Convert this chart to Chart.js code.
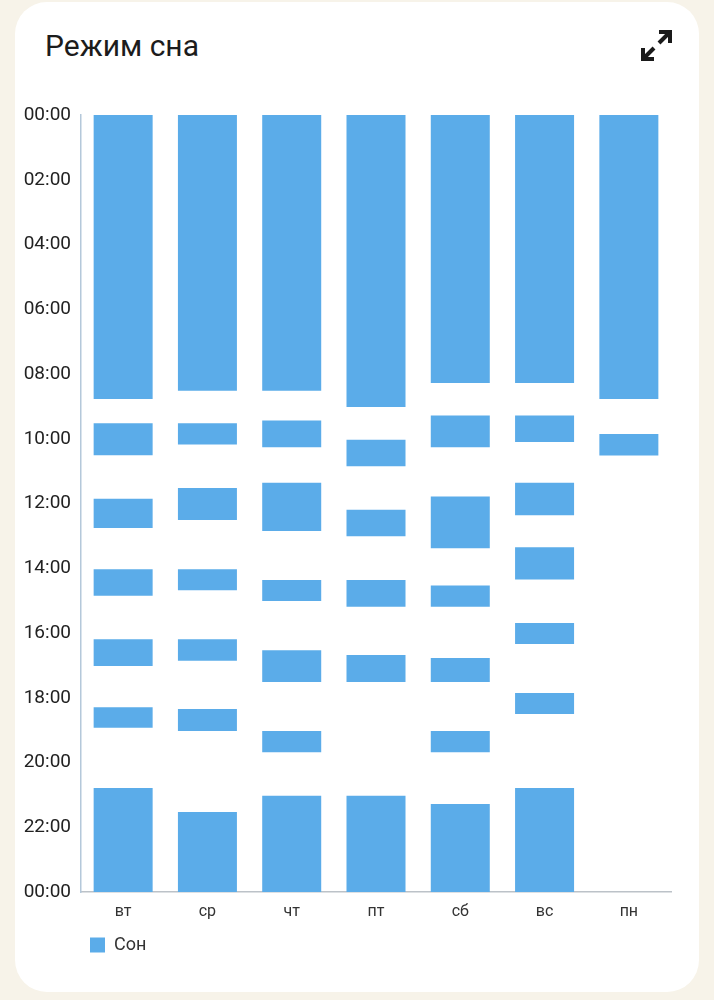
<!DOCTYPE html>
<html lang="ru">
<head>
<meta charset="utf-8">
<title>Режим сна</title>
<script src="https://cdn.jsdelivr.net/npm/chart.js@4"></script>
<style>
  html, body { margin: 0; padding: 0; background: #f7f3e9; }
  body { position: relative; width: 714px; height: 1000px; overflow: hidden; font-family: Roboto, sans-serif; }
  .card { position: absolute; left: 15px; top: 2px; width: 684px; height: 990px; background: #fff; border-radius: 32px; }
  h1 { position: absolute; left: 45px; top: 28px; margin: 0; font-size: 30px; line-height: 36px; font-weight: 400; color: #1c1c1c; }
  .expand { position: absolute; left: 640px; top: 29px; }
  canvas { position: absolute; left: 0; top: 0; }
</style>
</head>
<body>
<div class="card"></div>
<h1>Режим сна</h1>
<svg class="expand" width="33" height="33" viewBox="0 0 33 33" fill="none" stroke="#1a1a1a" stroke-width="4">
  <path d="M19 14 L30 3"/><path d="M19 3 H30 V14"/>
  <path d="M14 19 L3 30"/><path d="M3 19 V30 H14"/>
</svg>
<canvas id="sleepChart" width="714" height="1000"></canvas>
<script>
// days on the x axis
const days = ['вт', 'ср', 'чт', 'пт', 'сб', 'вс', 'пн'];
const hourLabels = {0: '00:00', 2: '02:00', 4: '04:00', 6: '06:00', 8: '08:00', 10: '10:00', 12: '12:00',
  14: '14:00', 16: '16:00', 18: '18:00', 20: '20:00', 22: '22:00', 24: '00:00'};

// sleep intervals per day, hours from midnight [start, end]
const tue = [[0, 8.77], [9.52, 10.51], [11.85, 12.76], [14.03, 14.85], [16.19, 17.02], [18.29, 18.93], [20.79, 24]];
const wed = [[0, 8.52], [9.52, 10.18], [11.52, 12.51], [14.03, 14.68], [16.19, 16.86], [18.35, 19.03], [21.53, 24]];
const thu = [[0, 8.52], [9.44, 10.26], [11.36, 12.85], [14.36, 15.01], [16.53, 17.51], [19.03, 19.68], [21.03, 24]];
const fri = [[0, 9.02], [10.03, 10.85], [12.19, 13.01], [14.36, 15.19], [16.68, 17.51], [21.03, 24]];
const sat = [[0, 8.28], [9.28, 10.26], [11.78, 13.38], [14.53, 15.19], [16.77, 17.51], [19.03, 19.68], [21.28, 24]];
const sun = [[0, 8.28], [9.28, 10.10], [11.36, 12.36], [13.35, 14.35], [15.69, 16.34], [17.85, 18.50], [20.79, 24]];
const mon = [[0, 8.77], [9.85, 10.52]];

const week = [tue, wed, thu, fri, sat, sun, mon];
const barColor = '#5bace9';

// one dataset per nth sleep of the day, all drawn in the same slot
const datasets = [];
for (let i = 0; i < 7; i++) {
  datasets.push({
    label: 'Сон',
    data: week.map(d => d[i] || null),
    backgroundColor: barColor,
    borderWidth: 0
  });
}

// legend sits under the plot, not at the canvas edge
const legendInset = {
  id: 'legendInset',
  afterLayout(chart) { chart.legend.left = 80; }
};

new Chart(document.getElementById('sleepChart'), {
  type: 'bar',
  data: { labels: days, datasets: datasets },
  plugins: [legendInset],
  options: {
    responsive: false,
    animation: false,
    devicePixelRatio: 1,
    datasets: { bar: { grouped: false, barPercentage: 0.7, categoryPercentage: 1 } },
    layout: { padding: { left: 0, right: 43, top: 115, bottom: 36 } },
    scales: {
      x: {
        afterFit: (s) => { s.height = 34; },
        grid: { display: false },
        border: { color: '#bcc2c8', width: 1.5 },
        ticks: { color: '#333', padding: 2, font: { family: 'Roboto', size: 16 } }
      },
      y: {
        reverse: true,
        min: 0,
        max: 24,
        afterFit: (s) => { s.width = 81; },
        grid: { display: false },
        border: { color: '#b4c8da', width: 1.5 },
        ticks: {
          stepSize: 2,
          color: '#222',
          padding: 2,
          font: { family: 'Roboto', size: 19 },
          callback: (v) => hourLabels[v]
        }
      }
    },
    plugins: {
      tooltip: { enabled: false },
      legend: {
        position: 'bottom',
        align: 'start',
        labels: {
          padding: 10,
          boxWidth: 15,
          boxHeight: 15,
          color: '#333',
          font: { family: 'Roboto', size: 18 },
          filter: (item) => item.datasetIndex === 0
        }
      }
    }
  }
});
</script>
</body>
</html>
